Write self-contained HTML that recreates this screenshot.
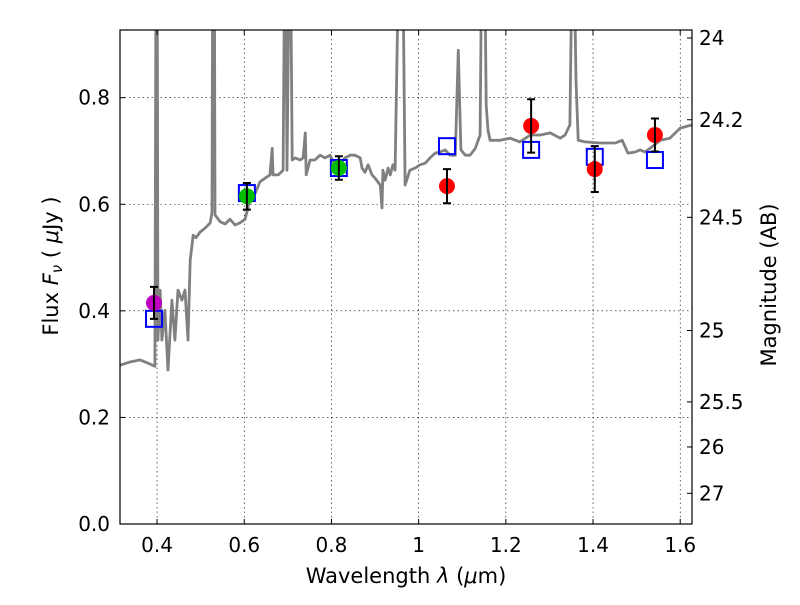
<!DOCTYPE html>
<html><head><meta charset="utf-8"><style>
body{margin:0;background:#fff}
svg text{font-family:"DejaVu Sans","Liberation Sans",sans-serif;fill:#000}
</style></head><body>
<svg id="chart" width="800" height="600" viewBox="0 0 800 600" xmlns="http://www.w3.org/2000/svg">
<rect width="800" height="600" fill="#fff"/>
<defs><clipPath id="clip"><rect x="120" y="30" width="572" height="494"/></clipPath></defs>
<g id="grid"></g>
<g id="plot" clip-path="url(#clip)"></g>
<rect x="120" y="30" width="572" height="494" fill="none" stroke="#000" stroke-width="1.2"/>
<g id="axes"></g>
<text x="406" y="583" font-size="21" text-anchor="middle">Wavelength  <tspan font-style="italic">λ</tspan> (<tspan font-style="italic">μ</tspan>m)</text>
<text transform="translate(58,266) rotate(-90)" font-size="21" text-anchor="middle">Flux  <tspan font-style="italic">F</tspan><tspan font-style="italic" font-size="15" dy="4">ν</tspan><tspan dy="-4">  ( </tspan><tspan font-style="italic">μ</tspan>Jy )</text>
<text transform="translate(776,285) rotate(-90)" font-size="21" text-anchor="middle">Magnitude (AB)</text>
</svg>
<script>
const specLam=[0.315,0.338,0.361,0.384,0.395,0.398,0.400,0.402,0.407,0.411,0.418,0.425,0.434,0.441,0.448,0.457,0.464,0.471,0.476,0.483,0.489,0.499,0.510,0.522,0.526,0.528,0.531,0.533,0.545,0.556,0.567,0.579,0.590,0.602,0.613,0.625,0.636,0.648,0.659,0.664,0.666,0.678,0.689,0.694,0.698,0.705,0.710,0.717,0.728,0.735,0.740,0.742,0.751,0.762,0.774,0.785,0.797,0.808,0.820,0.831,0.843,0.854,0.866,0.870,0.877,0.884,0.893,0.900,0.912,0.916,0.918,0.923,0.930,0.935,0.941,0.946,0.957,0.962,0.969,0.980,0.992,1.003,1.015,1.026,1.038,1.049,1.061,1.072,1.084,1.091,1.097,1.107,1.118,1.130,1.141,1.146,1.150,1.155,1.159,1.164,1.175,1.187,1.210,1.232,1.256,1.279,1.302,1.325,1.336,1.347,1.354,1.361,1.366,1.382,1.416,1.451,1.467,1.480,1.497,1.508,1.519,1.531,1.554,1.576,1.600,1.627];
const specFlux=[0.298,0.304,0.308,0.300,0.296,1.2,1.2,0.345,0.439,0.345,0.401,0.289,0.420,0.345,0.439,0.420,0.439,0.345,0.495,0.542,0.537,0.548,0.555,0.565,0.585,1.2,1.2,0.580,0.567,0.563,0.572,0.561,0.565,0.572,0.608,0.621,0.642,0.649,0.655,0.705,0.655,0.655,0.664,1.2,0.664,1.2,0.683,0.687,0.683,0.687,0.734,0.655,0.683,0.683,0.692,0.687,0.692,0.674,0.677,0.687,0.692,0.692,0.687,0.668,0.660,0.674,0.655,0.649,0.636,0.593,0.664,0.645,0.668,0.655,0.674,0.664,1.2,1.2,0.636,0.664,0.668,0.674,0.677,0.687,0.696,0.698,0.702,0.692,0.692,0.889,0.702,0.692,0.692,0.705,0.730,1.2,1.2,0.786,0.739,0.720,0.720,0.720,0.724,0.717,0.730,0.730,0.734,0.724,0.730,0.749,1.2,0.833,0.720,0.717,0.715,0.715,0.720,0.696,0.698,0.702,0.698,0.705,0.720,0.724,0.743,0.749];
const obsLam=[0.393,0.606,0.817,1.065,1.258,1.404,1.542];
const obsFlux=[0.415,0.615,0.668,0.634,0.747,0.666,0.730];
const obsErr=[0.030,0.025,0.022,0.032,0.050,0.043,0.031];
const obsColor=["#bf00bf","#00bf00","#00bf00","#ff0000","#ff0000","#ff0000","#ff0000"];
const modelFlux=[0.385,0.621,0.668,0.709,0.702,0.689,0.683];
const xTicks=[0.4,0.6,0.8,1.0,1.2,1.4,1.6];
const xTickLabels=["0.4","0.6","0.8","1","1.2","1.4","1.6"];
const yTicks=[0.0,0.2,0.4,0.6,0.8];
const yTickLabels=["0.0","0.2","0.4","0.6","0.8"];
const magTicks=[24,24.2,24.5,25,25.5,26,27];
const magTickLabels=["24","24.2","24.5","25","25.5","26","27"];

const NS="http://www.w3.org/2000/svg";
const X0=120,X1=692,Y0=524,Y1=30,LMIN=0.315,LMAX=1.627,FMIN=0,FMAX=0.927;
const xs=l=>X0+(l-LMIN)/(LMAX-LMIN)*(X1-X0);
const ys=f=>Y0-(f-FMIN)/(FMAX-FMIN)*(Y0-Y1);
const magToFlux=m=>Math.pow(10,(23.9-m)/2.5);
function mk(tag,attrs,parent){const e=document.createElementNS(NS,tag);for(const k in attrs)e.setAttribute(k,attrs[k]);parent.appendChild(e);return e;}
const grid=document.getElementById('grid'),plot=document.getElementById('plot'),axes=document.getElementById('axes');

xTicks.forEach((t,i)=>{
  const x=xs(t);
  const g=mk('line',{x1:x,x2:x,y1:Y1,y2:Y0,stroke:'#000','stroke-width':0.6,'stroke-dasharray':'1.5,3'},grid);
  
  
  mk('line',{x1:x,x2:x,y1:Y0,y2:Y0-5,stroke:'#000'},axes);
  mk('line',{x1:x,x2:x,y1:Y1,y2:Y1+5,stroke:'#000'},axes);
  const tx=mk('text',{x:x,y:Y0+28,'font-size':20,'text-anchor':'middle'},axes);
  tx.textContent=xTickLabels[i];
  
  
});
yTicks.forEach((t,i)=>{
  const y=ys(t);
  const g=mk('line',{x1:X0,x2:X1,y1:y,y2:y,stroke:'#000','stroke-width':0.6,'stroke-dasharray':'1.5,3'},grid);
  
  
  mk('line',{x1:X0,x2:X0+5,y1:y,y2:y,stroke:'#000'},axes);
  const tx=mk('text',{x:X0-10,y:y+7,'font-size':20,'text-anchor':'end'},axes);
  tx.textContent=yTickLabels[i];
  
  
});
magTicks.forEach((m,i)=>{
  const y=ys(magToFlux(m));
  mk('line',{x1:X1,x2:X1-5,y1:y,y2:y,stroke:'#000'},axes);
  const tx=mk('text',{x:X1+7,y:y+7,'font-size':20,'text-anchor':'start'},axes);
  tx.textContent=magTickLabels[i];
  
  
});

const pts=specLam.map((l,i)=>xs(l).toFixed(1)+','+ys(specFlux[i]).toFixed(1)).join(' ');
const sp=mk('polyline',{points:pts,fill:'none',stroke:'#808080','stroke-width':2.8,'stroke-linejoin':'round'},plot);



obsLam.forEach((l,i)=>{
  const x=xs(l);
  const sq=mk('rect',{x:x-8,y:ys(modelFlux[i])-8,width:16,height:16,fill:'none',stroke:'#0000ff','stroke-width':2},plot);
  
  
  const c=mk('circle',{cx:x,cy:ys(obsFlux[i]),r:8,fill:obsColor[i]},plot);
  
  
  const yt=ys(obsFlux[i]+obsErr[i]),yb=ys(obsFlux[i]-obsErr[i]);
  const eb=mk('path',{d:`M${x},${yt}V${yb}M${x-4},${yt}H${x+4}M${x-4},${yb}H${x+4}`,stroke:'#000','stroke-width':2,fill:'none'},plot);
  
  
});
</script>
</body></html>
